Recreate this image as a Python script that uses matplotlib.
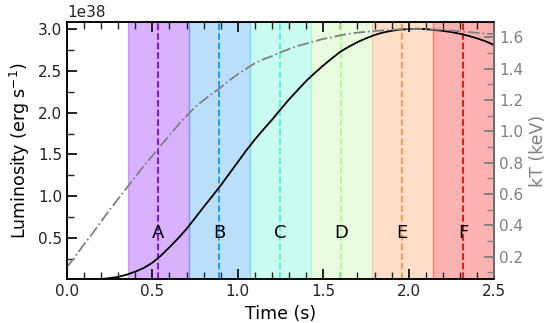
import numpy as np
import matplotlib
matplotlib.use("Agg")
import matplotlib.pyplot as plt
from matplotlib.ticker import MultipleLocator

# time grid (s)
time = [0.00, 0.05, 0.10, 0.15, 0.20, 0.25, 0.30, 0.35, 0.40, 0.45,
        0.50, 0.55, 0.60, 0.65, 0.70, 0.75, 0.80, 0.85, 0.90, 0.95,
        1.00, 1.05, 1.10, 1.15, 1.20, 1.25, 1.30, 1.35, 1.40, 1.45,
        1.50, 1.55, 1.60, 1.65, 1.70, 1.75, 1.80, 1.85, 1.90, 1.95,
        2.00, 2.05, 2.10, 2.15, 2.20, 2.25, 2.30, 2.35, 2.40, 2.45, 2.50]

# luminosity in units of 1e38 erg/s
lum = [0.000, 0.000, 0.002, 0.005, 0.010, 0.020, 0.035, 0.062, 0.098, 0.142,
       0.205, 0.290, 0.390, 0.495, 0.610, 0.740, 0.872, 1.000, 1.130, 1.270,
       1.410, 1.550, 1.680, 1.800, 1.915, 2.040, 2.160, 2.270, 2.380, 2.475,
       2.565, 2.650, 2.730, 2.790, 2.845, 2.890, 2.930, 2.960, 2.980, 2.995,
       3.000, 3.005, 3.000, 2.990, 2.980, 2.965, 2.945, 2.920, 2.890, 2.855, 2.810]

# temperature kT (keV)
kT = [0.135, 0.205, 0.280, 0.350, 0.425, 0.500, 0.570, 0.640, 0.710, 0.780,
      0.845, 0.910, 0.975, 1.040, 1.100, 1.155, 1.200, 1.240, 1.280, 1.325,
      1.365, 1.400, 1.435, 1.460, 1.480, 1.505, 1.525, 1.545, 1.560, 1.575,
      1.590, 1.600, 1.613, 1.622, 1.630, 1.635, 1.640, 1.644, 1.648, 1.651,
      1.653, 1.653, 1.652, 1.650, 1.647, 1.643, 1.638, 1.634, 1.629, 1.624, 1.620]

band_labels = ["A", "B", "C", "D", "E", "F"]
band_edges = [0.355, 0.712, 1.070, 1.427, 1.784, 2.141, 2.498]

scale = 1e38

fig = plt.figure(figsize=(5.49, 3.23), dpi=100)
ax = fig.add_axes([0.122, 0.135, 0.778, 0.798])
ax2 = ax.twinx()

colors = plt.cm.rainbow(np.linspace(0, 1, len(band_labels)))
for i, lab in enumerate(band_labels):
    lo, hi = band_edges[i], band_edges[i + 1]
    mid = 0.5 * (lo + hi)
    ax.axvspan(lo, hi, color=colors[i], alpha=0.3)
    ax.axvline(mid, color=colors[i], ls="--", lw=1.3)
    ax.text(mid, 0.5 * scale, lab, ha="center", va="baseline", fontsize=13)

ax.plot(time, np.array(lum) * scale, color="black", lw=1.3)
ax2.plot(time, kT, color="grey", ls="-.", lw=1.3)

ax.set_xlim(0, 2.5)
ax.set_ylim(0.005 * scale, 3.09 * scale)
ax2.set_ylim(0.056, 1.70)

ax.set_xlabel("Time (s)", fontsize=12.5)
ax.set_ylabel("Luminosity (erg s$^{-1}$)", fontsize=12.5)
ax2.set_ylabel("kT (keV)", fontsize=12.5, color="grey")

ax.xaxis.set_major_locator(MultipleLocator(0.5))
ax.xaxis.set_minor_locator(MultipleLocator(0.1))
ax.yaxis.set_major_locator(MultipleLocator(0.5 * scale))
ax.yaxis.set_minor_locator(MultipleLocator(0.25 * scale))
ax2.yaxis.set_major_locator(MultipleLocator(0.2))
ax2.yaxis.set_minor_locator(MultipleLocator(0.1))

ax.tick_params(which="both", direction="in", top=True, right=False,
               labelsize=11, colors="#222222")
ax.tick_params(which="major", length=7, width=1.4)
ax.tick_params(which="minor", length=5, width=1.0)
ax.yaxis.get_offset_text().set_fontsize(11)

ax2.tick_params(which="both", direction="in", labelsize=11, colors="grey")
ax2.tick_params(which="major", length=7, width=1.4)
ax2.tick_params(which="minor", length=5, width=1.0)

for sp in ax.spines.values():
    sp.set_linewidth(1.1)
for sp in ax2.spines.values():
    sp.set_linewidth(1.1)
ax2.spines["right"].set_color("grey")

fig.savefig("out.png", dpi=100)
